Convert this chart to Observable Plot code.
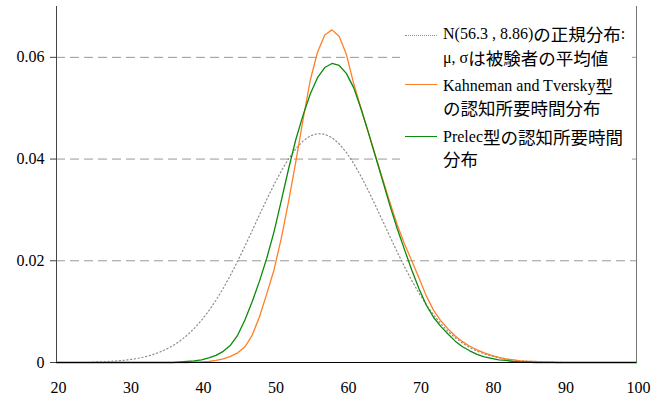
<!DOCTYPE html>
<html>
<head>
<meta charset="utf-8">
<script src="https://cdn.jsdelivr.net/npm/d3@7"></script>
<script src="https://cdn.jsdelivr.net/npm/@observablehq/plot@0.6"></script>
<style>
  html, body { margin: 0; padding: 0; background: #fff; }
  #wrap { position: relative; width: 664px; height: 403px; }
  #wrap svg, #wrap svg text { font-family: "Liberation Serif", "Times New Roman", serif !important; }
  #legend { position: absolute; left: 400px; top: 22px; width: 232px; height: 148px; background: #fff; }
  .lt { position: absolute; left: 443px; height: 20px; line-height: 20px; white-space: nowrap; overflow: visible;
        font-family: "Liberation Serif", "Times New Roman", serif; font-size: 16px; color: #000; }
  .j { font-family: "Noto Sans CJK JP", sans-serif; font-size: 17.5px; display: inline-block; height: 20px; line-height: 20px; vertical-align: top; }
  .sw { position: absolute; left: 405px; width: 32px; height: 0; }
</style>
</head>
<body>
<div id="wrap"></div>
<script>
// tick labels
const xTicks = [20, 30, 40, 50, 60, 70, 80, 90, 100];
const yTicks = [0, 0.02, 0.04, 0.06];
const yTickLabels = ["0", "0.02", "0.04", "0.06"];
const gridValues = [0.02, 0.04, 0.06];

// N(56.3, 8.86)
const normX = d3.range(25, 91);
const normY = [0.00009,0.00013,0.00019,0.00027,0.00039,0.00055,0.00076,0.00105,0.00142,0.00190,
  0.00250,0.00326,0.00420,0.00534,0.00670,0.00829,0.01014,0.01224,0.01459,0.01718,
  0.01997,0.02291,0.02596,0.02904,0.03207,0.03497,0.03765,0.04003,0.04201,0.04354,
  0.04455,0.04500,0.04489,0.04421,0.04299,0.04127,0.03912,0.03661,0.03383,0.03087,
  0.02781,0.02473,0.02172,0.01883,0.01612,0.01363,0.01137,0.00937,0.00762,0.00612,
  0.00486,0.00380,0.00294,0.00224,0.00169,0.00126,0.00092,0.00067,0.00048,0.00034,
  0.00024,0.00016,0.00011,0.00007,0.00005,0.00003];

// Kahneman and Tversky
const ktX = [20, ...d3.range(37, 91), 100];
const ktY = [0,
  0,0,0.0001,0.0001,0.0002,0.0004,0.0007,0.0012,0.0019,0.0031,
  0.0054,0.0090,0.0135,0.0182,0.0244,0.0316,0.0394,0.0477,0.0555,0.0610,
  0.0644,0.0654,0.0641,0.0605,0.0548,0.0500,0.0453,0.0406,0.0360,0.0314,
  0.0271,0.0233,0.0200,0.0166,0.0131,0.0103,0.0082,0.0066,0.0052,0.0041,
  0.0032,0.0025,0.0019,0.0014,0.0010,0.0007,0.0005,0.0003,0.0002,0.0002,
  0.0001,0.0001,0,0,
  0];

// Prelec
const prX = [20, ...d3.range(36, 87), 100];
const prY = [0,
  0,0.0001,0.0002,0.0003,0.0005,0.0009,0.0014,0.0022,0.0034,0.0054,
  0.0084,0.0120,0.0160,0.0205,0.0257,0.0318,0.0380,0.0438,0.0486,0.0528,
  0.0560,0.0580,0.0588,0.0584,0.0568,0.0540,0.0499,0.0453,0.0405,0.0357,
  0.0308,0.0263,0.0222,0.0182,0.0145,0.0113,0.0089,0.0071,0.0056,0.0042,
  0.0031,0.0023,0.0016,0.0011,0.0008,0.0005,0.0004,0.0002,0.0001,0.0001,
  0,
  0];

const zip = (xs, ys) => xs.map((x, i) => ({x, y: ys[i]}));
const normData = zip(normX, normY);
const ktData = zip(ktX, ktY);
const prData = zip(prX, prY);

const chart = Plot.plot({
  width: 664,
  height: 403,
  marginLeft: 56,
  marginRight: 28,
  marginTop: 6,
  marginBottom: 41,
  style: "font-family: 'Liberation Serif', 'Times New Roman', serif; font-size: 16px; color: #000; background: #fff;",
  x: { domain: [20, 100] },
  y: { domain: [0, 0.07] },
  marks: [
    Plot.ruleY(gridValues, { stroke: "#999", strokeDasharray: "9,5", strokeWidth: 1 }),
    Plot.axisY({ ticks: yTicks, tickFormat: d => yTickLabels[yTicks.indexOf(d)], tickSize: 6, tickPadding: 6, stroke: "#444", fill: "#000", fontSize: 16, label: null }),
    Plot.axisX({ ticks: xTicks, tickFormat: d => String(d), tickSize: 0, tickPadding: 19, dx: 2, fill: "#000", fontSize: 16, label: null }),
    Plot.ruleX([20], { stroke: "#444", strokeWidth: 1 }),
    Plot.ruleX([100], { stroke: "#777", strokeWidth: 1 }),
    Plot.line(normData, { x: "x", y: "y", stroke: "#8c8c8c", strokeWidth: 1.2, strokeDasharray: "1.2,2.6" }),
    Plot.line(ktData, { x: "x", y: "y", stroke: "#ff7f27", strokeWidth: 1.3 }),
    Plot.line(prData, { x: "x", y: "y", stroke: "#0a8a0a", strokeWidth: 1.3 }),
    Plot.ruleY([0], { stroke: "#000", strokeWidth: 1.2 })
  ]
});

const wrap = document.getElementById("wrap");
wrap.appendChild(chart);

const legendHTML = `
  <div id="legend"></div>
  <div class="sw" style="top:35px;border-top:1.3px dotted #8c8c8c;"></div>
  <div class="lt" style="top:24px;">N(56.3 , 8.86)<span class="j">の正規分布</span>:</div>
  <div class="lt" style="top:48px;">μ, σ<span class="j">は被験者の平均値</span></div>
  <div class="sw" style="top:84px;border-top:1.5px solid #ff7f27;"></div>
  <div class="lt" style="top:76px;">Kahneman and Tversky<span class="j">型</span></div>
  <div class="lt" style="top:98px;"><span class="j">の認知所要時間分布</span></div>
  <div class="sw" style="top:136px;border-top:1.5px solid #0a8a0a;"></div>
  <div class="lt" style="top:127px;">Prelec<span class="j">型の認知所要時間</span></div>
  <div class="lt" style="top:149px;"><span class="j">分布</span></div>
`;
wrap.insertAdjacentHTML("beforeend", legendHTML);
</script>
</body>
</html>
